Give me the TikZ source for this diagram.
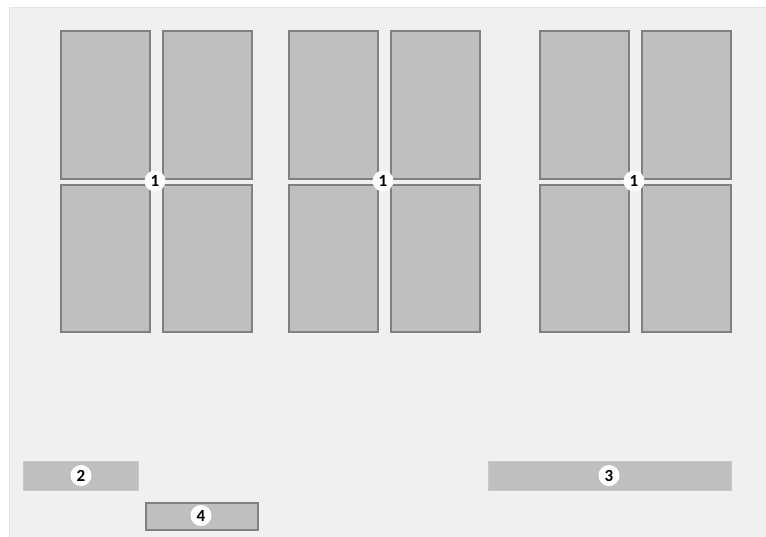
\documentclass[tikz,border=0pt]{standalone}
\usepackage{fontspec}
\setsansfont{Carlito}
\usetikzlibrary{positioning}
\definecolor{PanelGray}{HTML}{BFBFBF}
\definecolor{EdgeGray}{HTML}{808080}
\definecolor{BackGray}{HTML}{F0F0F0}

\tikzset{
  panel/.style={draw=EdgeGray, fill=PanelGray, line width=2pt, inner sep=0pt, anchor=north west},
  bar/.style={draw=PanelGray!85!white, fill=PanelGray, line width=0.8pt, inner sep=0pt, anchor=north west},
  badge/.style={circle, fill=white, inner sep=0pt, minimum size=21pt, font=\sffamily\bfseries\fontsize{17}{17}\selectfont}
}

\begin{document}
\begin{tikzpicture}[x=1pt, y=-1pt]
    \useasboundingbox (0,0) rectangle (766,536);
    \fill[white] (0,0) rectangle (766,536);
    \filldraw[fill=BackGray, draw=black!10, line width=0.8pt] (9,7) rectangle (767,537);

    % door sets: left x of each group
    \foreach \gx/\gn in {59/a, 287/b, 538/c} {
      \node[panel, minimum width=89pt, minimum height=148pt] (\gn tl) at (\gx+1,30) {};
      \node[panel, minimum width=89pt, minimum height=148pt] (\gn tr) at (\gx+103,30) {};
      \node[panel, minimum width=89pt, minimum height=147pt] (\gn bl) at (\gx+1,184) {};
      \node[panel, minimum width=89pt, minimum height=147pt] (\gn br) at (\gx+103,184) {};
      \node[badge] (\gn badge) at (\gx+96,181) {1};
    }

    % bottom bars
    \node[bar, minimum width=115pt, minimum height=29pt] (left bar) at (23,461) {};
    \node[badge] at (81,475.5) {2};
    \node[bar, minimum width=243pt, minimum height=29pt] (right bar) at (488,461) {};
    \node[badge] at (609,475.5) {3};
    \node[panel, minimum width=112pt, minimum height=27pt] (step bar) at (145,502) {};
    \node[badge] at (201,515.5) {4};
  \end{tikzpicture}
\end{document}
